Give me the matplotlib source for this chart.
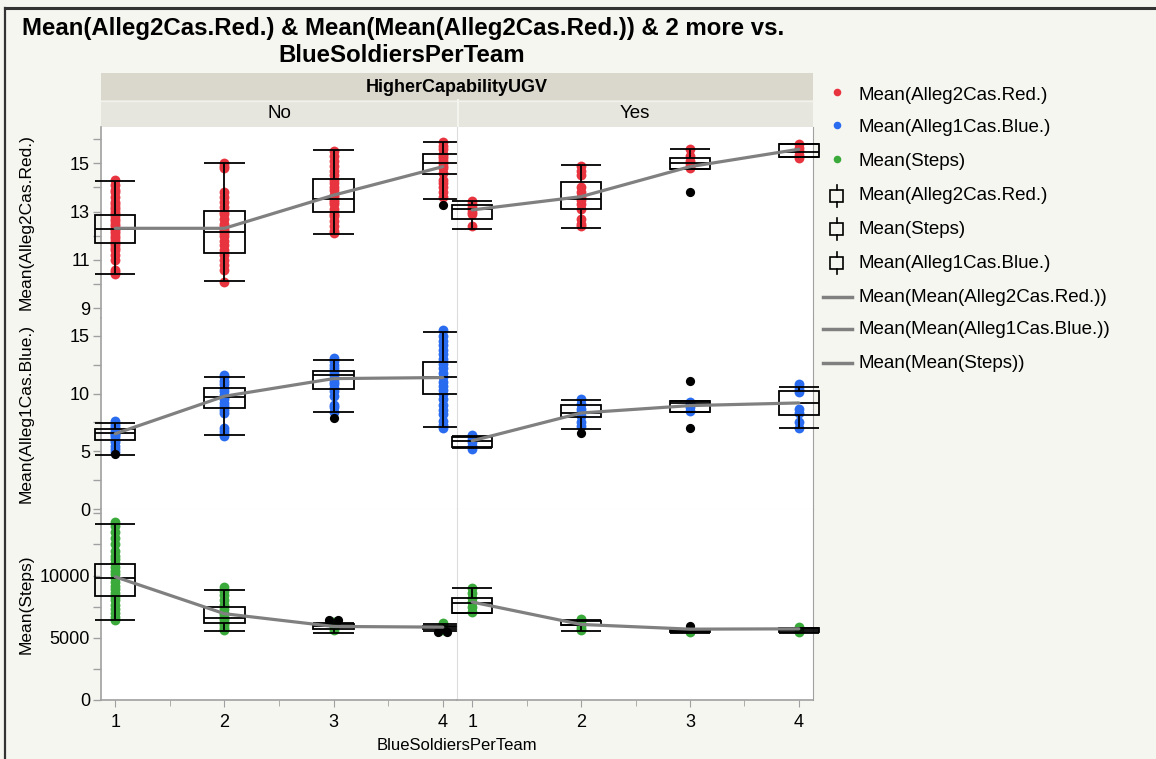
import matplotlib
matplotlib.use('Agg')
import matplotlib.pyplot as plt
from matplotlib.patches import Rectangle
from matplotlib.ticker import FixedLocator

plt.rcParams['font.family'] = ['Liberation Sans', 'DejaVu Sans']

# ---- data ----
soldiers = [1, 2, 3, 4]
panels = ['No', 'Yes']
row_labels = ['Mean(Alleg2Cas.Red.)', 'Mean(Alleg1Cas.Blue.)', 'Mean(Steps)']

# box stats per group: (low whisker, Q1, median, Q3, high whisker)
red_box_no = [(10.4, 11.7, 12.28, 12.84, 14.25), (10.12, 11.27, 12.15, 13.04, 15.0),
              (12.08, 12.97, 13.52, 14.35, 15.56), (13.54, 14.56, 15.0, 15.37, 15.88)]
red_box_yes = [(12.28, 12.71, 13.11, 13.29, 13.43), (12.33, 13.09, 13.52, 14.23, 14.94),
               (14.75, 14.78, 15.0, 15.23, 15.6), (15.25, 15.25, 15.48, 15.8, 15.8)]
blue_box_no = [(4.65, 6.0, 6.55, 6.93, 7.45), (6.41, 8.78, 9.71, 10.52, 11.45),
               (8.4, 10.4, 11.57, 12.0, 12.87), (7.07, 10.0, 11.45, 12.78, 15.3)]
blue_box_yes = [(5.3, 5.39, 5.85, 6.2, 6.3), (6.93, 7.97, 8.3, 9.04, 9.48),
                (8.37, 8.4, 9.2, 9.33, 9.4), (7.04, 8.11, 9.19, 10.26, 10.6)]
green_box_no = [(6395, 8355, 9839, 10968, 14138), (5508, 6154, 6613, 7468, 8839),
                (5371, 5726, 5912, 6073, 6178), (5533, 5726, 5831, 5968, 6129)]
green_box_yes = [(7017, 7017, 7791, 8226, 8976), (5533, 6000, 6049, 6339, 6452),
                 (5371, 5450, 5550, 5650, 5700), (5371, 5500, 5650, 5774, 5800)]

# means of the means (grey line)
red_mean_no = [12.31, 12.31, 13.68, 14.86]
red_mean_yes = [13.07, 13.62, 14.86, 15.58]
blue_mean_no = [6.52, 9.77, 11.3, 11.39]
blue_mean_yes = [5.91, 8.32, 8.96, 9.19]
green_mean_no = [9900, 6936, 5912, 5855]
green_mean_yes = [7871, 6073, 5694, 5720]

# individual points
red_pts_no = [
    [10.4, 10.5, 10.6, 11.0, 11.2, 11.4, 11.5, 11.6, 11.7, 11.8, 11.9, 12.0, 12.1, 12.2, 12.3, 12.4,
     12.5, 12.6, 12.7, 12.8, 12.9, 13.0, 13.1, 13.2, 13.3, 13.4, 13.6, 13.8, 13.9, 14.1, 14.3],
    [10.1, 10.6, 10.8, 11.0, 11.2, 11.4, 11.6, 11.8, 12.0, 12.1, 12.2, 12.3, 12.4, 12.5, 12.7, 12.9,
     13.0, 13.2, 13.4, 13.6, 13.8, 14.8, 14.9, 15.0],
    [12.1, 12.2, 12.4, 12.6, 12.8, 12.9, 13.1, 13.3, 13.4, 13.5, 13.6, 13.7, 13.9, 14.0, 14.2, 14.3,
     14.5, 14.7, 14.9, 15.1, 15.3, 15.5],
    [13.6, 13.8, 14.0, 14.2, 14.3, 14.6, 14.8, 14.9, 15.0, 15.1, 15.2, 15.3, 15.4, 15.6, 15.7, 15.9]]
red_pts_yes = [
    [12.4, 12.9, 13.0, 13.1, 13.2, 13.3, 13.45],
    [12.4, 12.5, 12.7, 13.1, 13.3, 13.5, 13.6, 13.8, 14.0, 14.5, 14.7, 14.9],
    [14.8, 14.9, 15.0, 15.1, 15.3, 15.6],
    [15.2, 15.35, 15.5, 15.65, 15.8]]
blue_pts_no = [
    [4.9, 5.2, 5.5, 5.8, 6.0, 6.2, 6.4, 6.5, 6.6, 6.8, 7.0, 7.2, 7.4, 7.6],
    [6.3, 6.5, 6.8, 7.0, 8.3, 8.6, 8.9, 9.2, 9.5, 9.7, 9.9, 10.2, 10.5, 10.8, 11.1, 11.4, 11.6],
    [8.4, 8.8, 9.0, 9.8, 10.2, 10.5, 10.8, 11.0, 11.3, 11.6, 11.9, 12.2, 12.5, 12.8, 13.1],
    [7.0, 7.3, 7.6, 8.2, 8.6, 9.0, 9.5, 10.0, 10.3, 10.7, 11.0, 11.4, 11.8, 12.2, 12.6, 13.0,
     13.4, 13.8, 14.2, 14.6, 15.0, 15.5]]
blue_pts_yes = [
    [5.2, 5.5, 5.8, 6.1, 6.4],
    [7.2, 7.5, 8.1, 8.4, 8.7, 9.1, 9.5],
    [8.5, 8.8, 9.1, 9.3],
    [7.0, 7.5, 8.3, 8.7, 10.1, 10.4, 10.8]]
green_pts_no = [
    [6400, 6700, 7000, 7300, 7600, 8000, 8300, 8600, 8900, 9200, 9500, 9800, 10100, 10400,
     10700, 11000, 11300, 11600, 12000, 12500, 13000, 13500, 14000, 14300],
    [5600, 5800, 6000, 6200, 6400, 6600, 6800, 7000, 7300, 7600, 8000, 8400, 8800, 9100],
    [5600, 5800, 5950, 6100, 6250],
    [5600, 5800, 6000, 6200]]
green_pts_yes = [
    [7050, 7500, 7900, 8200, 8600, 9000],
    [5600, 5800, 6000, 6200, 6400, 6500],
    [5450, 5550, 5650],
    [5500, 5650, 5855]]

# outliers (black)
red_out_no = [[], [], [], [13.28]]
red_out_yes = [[], [], [13.83], []]
blue_out_no = [[4.75], [], [7.89], []]
blue_out_yes = [[], [6.55], [11.13, 7.04], []]
green_out_no = [[], [], [6400, 6400], [5430, 5430]]
green_out_yes = [[], [], [5912], []]

RED, BLUE, GREEN = '#E8343F', '#2A6CF0', '#3AAA3A'
LINE_GREY = '#808080'
AXIS_GREY = '#A0A0A0'
BG = '#F6F6F1'

rows = [
    dict(color=RED, boxes=[red_box_no, red_box_yes], means=[red_mean_no, red_mean_yes],
         pts=[red_pts_no, red_pts_yes], outs=[red_out_no, red_out_yes],
         ylim=(8.6, 16.5), major=[9, 11, 13, 15], minor=[10, 12, 14, 16]),
    dict(color=BLUE, boxes=[blue_box_no, blue_box_yes], means=[blue_mean_no, blue_mean_yes],
         pts=[blue_pts_no, blue_pts_yes], outs=[blue_out_no, blue_out_yes],
         ylim=(0, 16.55), major=[0, 5, 10, 15], minor=[2.5, 7.5, 12.5]),
    dict(color=GREEN, boxes=[green_box_no, green_box_yes], means=[green_mean_no, green_mean_yes],
         pts=[green_pts_no, green_pts_yes], outs=[green_out_no, green_out_yes],
         ylim=(0, 15350), major=[0, 5000, 10000], minor=[2500, 7500, 12500, 15000]),
]

W, H = 1156, 759
fig = plt.figure(figsize=(W / 100, H / 100), dpi=100, facecolor=BG)


def rect(x0, y0, x1, y1):
    return [x0 / W, 1 - y1 / H, (x1 - x0) / W, (y1 - y0) / H]


# overlay in pixel coordinates for title, headers, legend
ov = fig.add_axes([0, 0, 1, 1])
ov.set_xlim(0, W)
ov.set_ylim(H, 0)
ov.axis('off')
ov.patch.set_alpha(0)

ov.plot([5, W], [8, 8], color='#333333', lw=2.2)
ov.plot([5, 5], [8, H], color='#333333', lw=1.6)

ov.text(403, 28, 'Mean(Alleg2Cas.Red.) & Mean(Mean(Alleg2Cas.Red.)) & 2 more vs.',
        ha='center', va='center', fontsize=17.3, fontweight='bold')
ov.text(402, 55, 'BlueSoldiersPerTeam', ha='center', va='center', fontsize=17.3, fontweight='bold')

ov.add_patch(Rectangle((101, 73), 712, 27, color='#DAD8CC', lw=0))
ov.add_patch(Rectangle((101, 100), 712, 27, color='#E7E6DE', lw=0))
ov.plot([101, 813], [100.5, 100.5], color='#F2F1EC', lw=1)
ov.plot([457.5, 457.5], [100, 127], color='#F4F4EF', lw=1.5)
ov.text(457, 87, 'HigherCapabilityUGV', ha='center', va='center', fontsize=13, fontweight='bold')
ov.text(279, 114, 'No', ha='center', va='center', fontsize=13.5)
ov.text(635, 114, 'Yes', ha='center', va='center', fontsize=13.5)

# legend
leg_y = [95, 128, 162, 196, 229, 263, 297, 329, 363]
leg_txt = ['Mean(Alleg2Cas.Red.)', 'Mean(Alleg1Cas.Blue.)', 'Mean(Steps)',
           'Mean(Alleg2Cas.Red.)', 'Mean(Steps)', 'Mean(Alleg1Cas.Blue.)',
           'Mean(Mean(Alleg2Cas.Red.))', 'Mean(Mean(Alleg1Cas.Blue.))', 'Mean(Mean(Steps))']
for i, (y, t) in enumerate(zip(leg_y, leg_txt)):
    ov.text(858, y, t, ha='left', va='center', fontsize=13.5)
    if i < 3:
        ov.scatter([837], [y - 3], s=30, color=[RED, BLUE, GREEN][i], lw=0)
    elif i < 6:
        ov.add_patch(Rectangle((830, y - 6), 13, 12, fill=False, ec='black', lw=1.2))
        ov.plot([836.5, 836.5], [y - 11, y - 6], color='black', lw=1.2)
        ov.plot([836.5, 836.5], [y + 6, y + 11], color='black', lw=1.2)
    else:
        ov.plot([823, 852], [y, y], color=LINE_GREY, lw=2.5)

col_x = [(101, 457), (457, 813)]
row_y = [(127, 318), (318, 509), (509, 700)]
xlims = [(0.87, 4.13), (0.86, 4.13)]
box_w = 0.37

for c in range(2):
    for r, row in enumerate(rows):
        ax = fig.add_axes(rect(col_x[c][0], row_y[r][0], col_x[c][1], row_y[r][1]))
        ax.set_facecolor('white')
        ax.set_xlim(*xlims[c])
        ax.set_ylim(*row['ylim'])
        for s in ['top', 'right', 'bottom', 'left']:
            ax.spines[s].set_visible(False)
        if c == 0:
            ax.spines['left'].set_visible(True)
            ax.spines['left'].set_color(AXIS_GREY)
            ax.spines['left'].set_linewidth(1.2)
            ax.yaxis.set_major_locator(FixedLocator(row['major']))
            ax.yaxis.set_minor_locator(FixedLocator(row['minor']))
            ax.tick_params(axis='y', which='major', length=6, width=1, color=AXIS_GREY,
                           labelsize=13, pad=2)
            ax.tick_params(axis='y', which='minor', length=6, width=1, color=AXIS_GREY)
            ax.set_ylabel(row_labels[r], fontsize=12.5)
            ax.yaxis.set_label_coords(-0.19, 0.5)
        else:
            ax.spines['left'].set_visible(True)
            ax.spines['left'].set_color('#DCDCDC')
            ax.spines['right'].set_visible(True)
            ax.spines['right'].set_color(AXIS_GREY)
            ax.set_yticks([])
        if r == 1:
            ax.spines['bottom'].set_visible(True)
            ax.spines['bottom'].set_color('#DCDCDC')
        if r == 2:
            ax.spines['bottom'].set_visible(True)
            ax.spines['bottom'].set_color(AXIS_GREY)
            ax.spines['bottom'].set_linewidth(1.2)
            ax.xaxis.set_major_locator(FixedLocator(soldiers))
            ax.xaxis.set_minor_locator(FixedLocator([1.5, 2.5, 3.5]))
            ax.tick_params(axis='x', which='major', length=5, color=AXIS_GREY, labelsize=13, pad=5)
            ax.tick_params(axis='x', which='minor', length=4, color=AXIS_GREY)
        else:
            ax.set_xticks([])

        # points
        for x, vals in zip(soldiers, row['pts'][c]):
            ax.scatter([x] * len(vals), vals, s=50, color=row['color'], lw=0, zorder=3)
        # outliers, spread when values repeat
        for x, vals in zip(soldiers, row['outs'][c]):
            for k, v in enumerate(vals):
                dup = vals.count(v) > 1
                off = (-0.04 if vals.index(v) == k else 0.04) if dup else 0
                ax.scatter([x + off], [v], s=44, color='black', lw=0, zorder=5)
        # boxes
        for x, (lo, q1, med, q3, hi) in zip(soldiers, row['boxes'][c]):
            kw = dict(color='black', lw=1.3, clip_on=False, zorder=4, solid_capstyle='butt')
            ax.add_patch(Rectangle((x - box_w / 2, q1), box_w, q3 - q1, fill=False, ec='black',
                                   lw=1.3, clip_on=False, zorder=4))
            ax.plot([x - box_w / 2, x + box_w / 2], [med, med], **kw)
            ax.plot([x, x], [q3, hi], **kw)
            ax.plot([x, x], [lo, q1], **kw)
            ax.plot([x - box_w / 2, x + box_w / 2], [hi, hi], **kw)
            ax.plot([x - box_w / 2, x + box_w / 2], [lo, lo], **kw)
        # mean line
        ax.plot(soldiers, row['means'][c], color=LINE_GREY, lw=2.3, zorder=6,
                solid_capstyle='round')

ov.text(457, 745, 'BlueSoldiersPerTeam', ha='center', va='center', fontsize=12)

fig.savefig('out.png', dpi=100, facecolor=BG)
